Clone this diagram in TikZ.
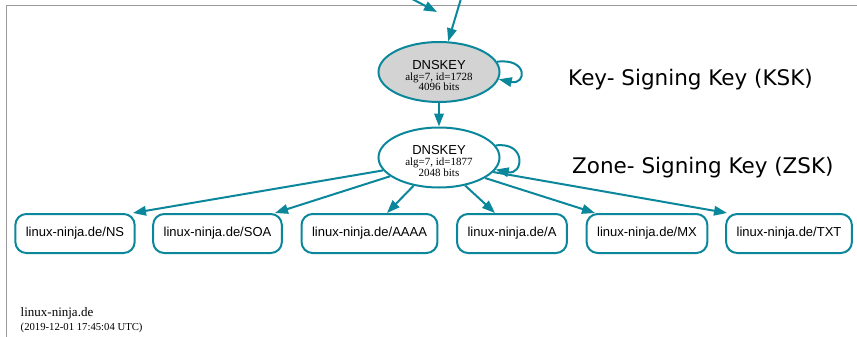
\documentclass[tikz,border=0pt]{standalone}
\usepackage{fontspec}
\setmainfont{Liberation Serif}
\setsansfont{Liberation Sans}
\newfontfamily\dejavu{DejaVu Sans}
\usetikzlibrary{arrows.meta,shapes.geometric}
\definecolor{dnsteal}{HTML}{0A879A}
\definecolor{framegray}{HTML}{999999}
\definecolor{keygray}{HTML}{D3D3D3}
\tikzset{
  edge/.style={draw=dnsteal, line width=2pt, -{Triangle[length=13pt,width=9.5pt]}},
  keynode/.style={ellipse, draw=dnsteal, line width=2pt, minimum width=121pt, minimum height=60pt,
    inner sep=0pt, align=center, font=\fontsize{11}{10.7}\selectfont},
  rrnode/.style={rectangle, rounded corners=11pt, draw=dnsteal, line width=2pt, minimum height=39pt,
    inner xsep=10.5pt, font=\sffamily\fontsize{13}{15}\selectfont},
  sidelabel/.style={anchor=base west, inner sep=0pt, font=\dejavu\fontsize{21.5}{24}\selectfont},
}
\newcommand{\keytitle}{{\sffamily\fontsize{13}{13}\selectfont\rule{0pt}{16.5pt}DNSKEY}}

\begin{document}
\begin{tikzpicture}[x=1pt,y=-1pt]
  \useasboundingbox (0,0) rectangle (857,337);
  % frame
  \draw [framegray, line width=1.8pt] (6.5,337) -- (6.5,5.5) -- (857,5.5);
  % keys
  \node [keynode, fill=keygray] (ksk) at (439,72) {\keytitle\\alg=7, id=1728\\4096 bits};
  \node [keynode] (zsk) at (439,157.5) {\keytitle\\alg=7, id=1877\\2048 bits};
  % edges from above
  \coordinate (dsa) at (395,-10);
  \coordinate (dsatip) at (437,12);
  \coordinate (dsb) at (463,-8);
  \draw [edge] (dsa) -- (dsatip);
  \draw [edge] (dsb) -- (ksk);
  \draw [edge] (ksk) -- (zsk);
  % self loops
  \draw [edge] (ksk.10) .. controls +(31,-4) and +(28,6) .. (ksk.-7);
  \draw [edge] (zsk.12) .. controls +(31,-4) and +(28,6) .. (zsk.-12);
  % records
  \foreach \name/\lab/\cx in {ns/NS/75, soa/SOA/217.5, aaaa/AAAA/369.5, a/A/512, mx/MX/647, txt/TXT/789} {
    \node [rrnode] (\name) at (\cx,233.5) {linux-ninja.de/\lab};
  }
  \foreach \name/\ang/\dx in {ns/193/58, soa/201/57.5, aaaa/228/17.5, a/313/-17, mx/336/-52, txt/345/-62} {
    \draw [edge] (zsk.\ang) -- ([xshift=\dx pt]\name.north);
  }
  % labels
  \node [sidelabel] (ksklabel) at (568,85) {Key- Signing Key (KSK)};
  \node [sidelabel] (zsklabel) at (572,173) {Zone- Signing Key (ZSK)};
  % footer
  \node [anchor=base west, inner sep=0pt, font=\fontsize{13}{15}\selectfont] (zone) at (20.5,316.5) {linux-ninja.de};
  \node [anchor=base west, inner sep=0pt, font=\fontsize{10.7}{12}\selectfont] (stamp) at (20.5,330.5) {(2019-12-01 17:45:04 UTC)};
\end{tikzpicture}
\end{document}
